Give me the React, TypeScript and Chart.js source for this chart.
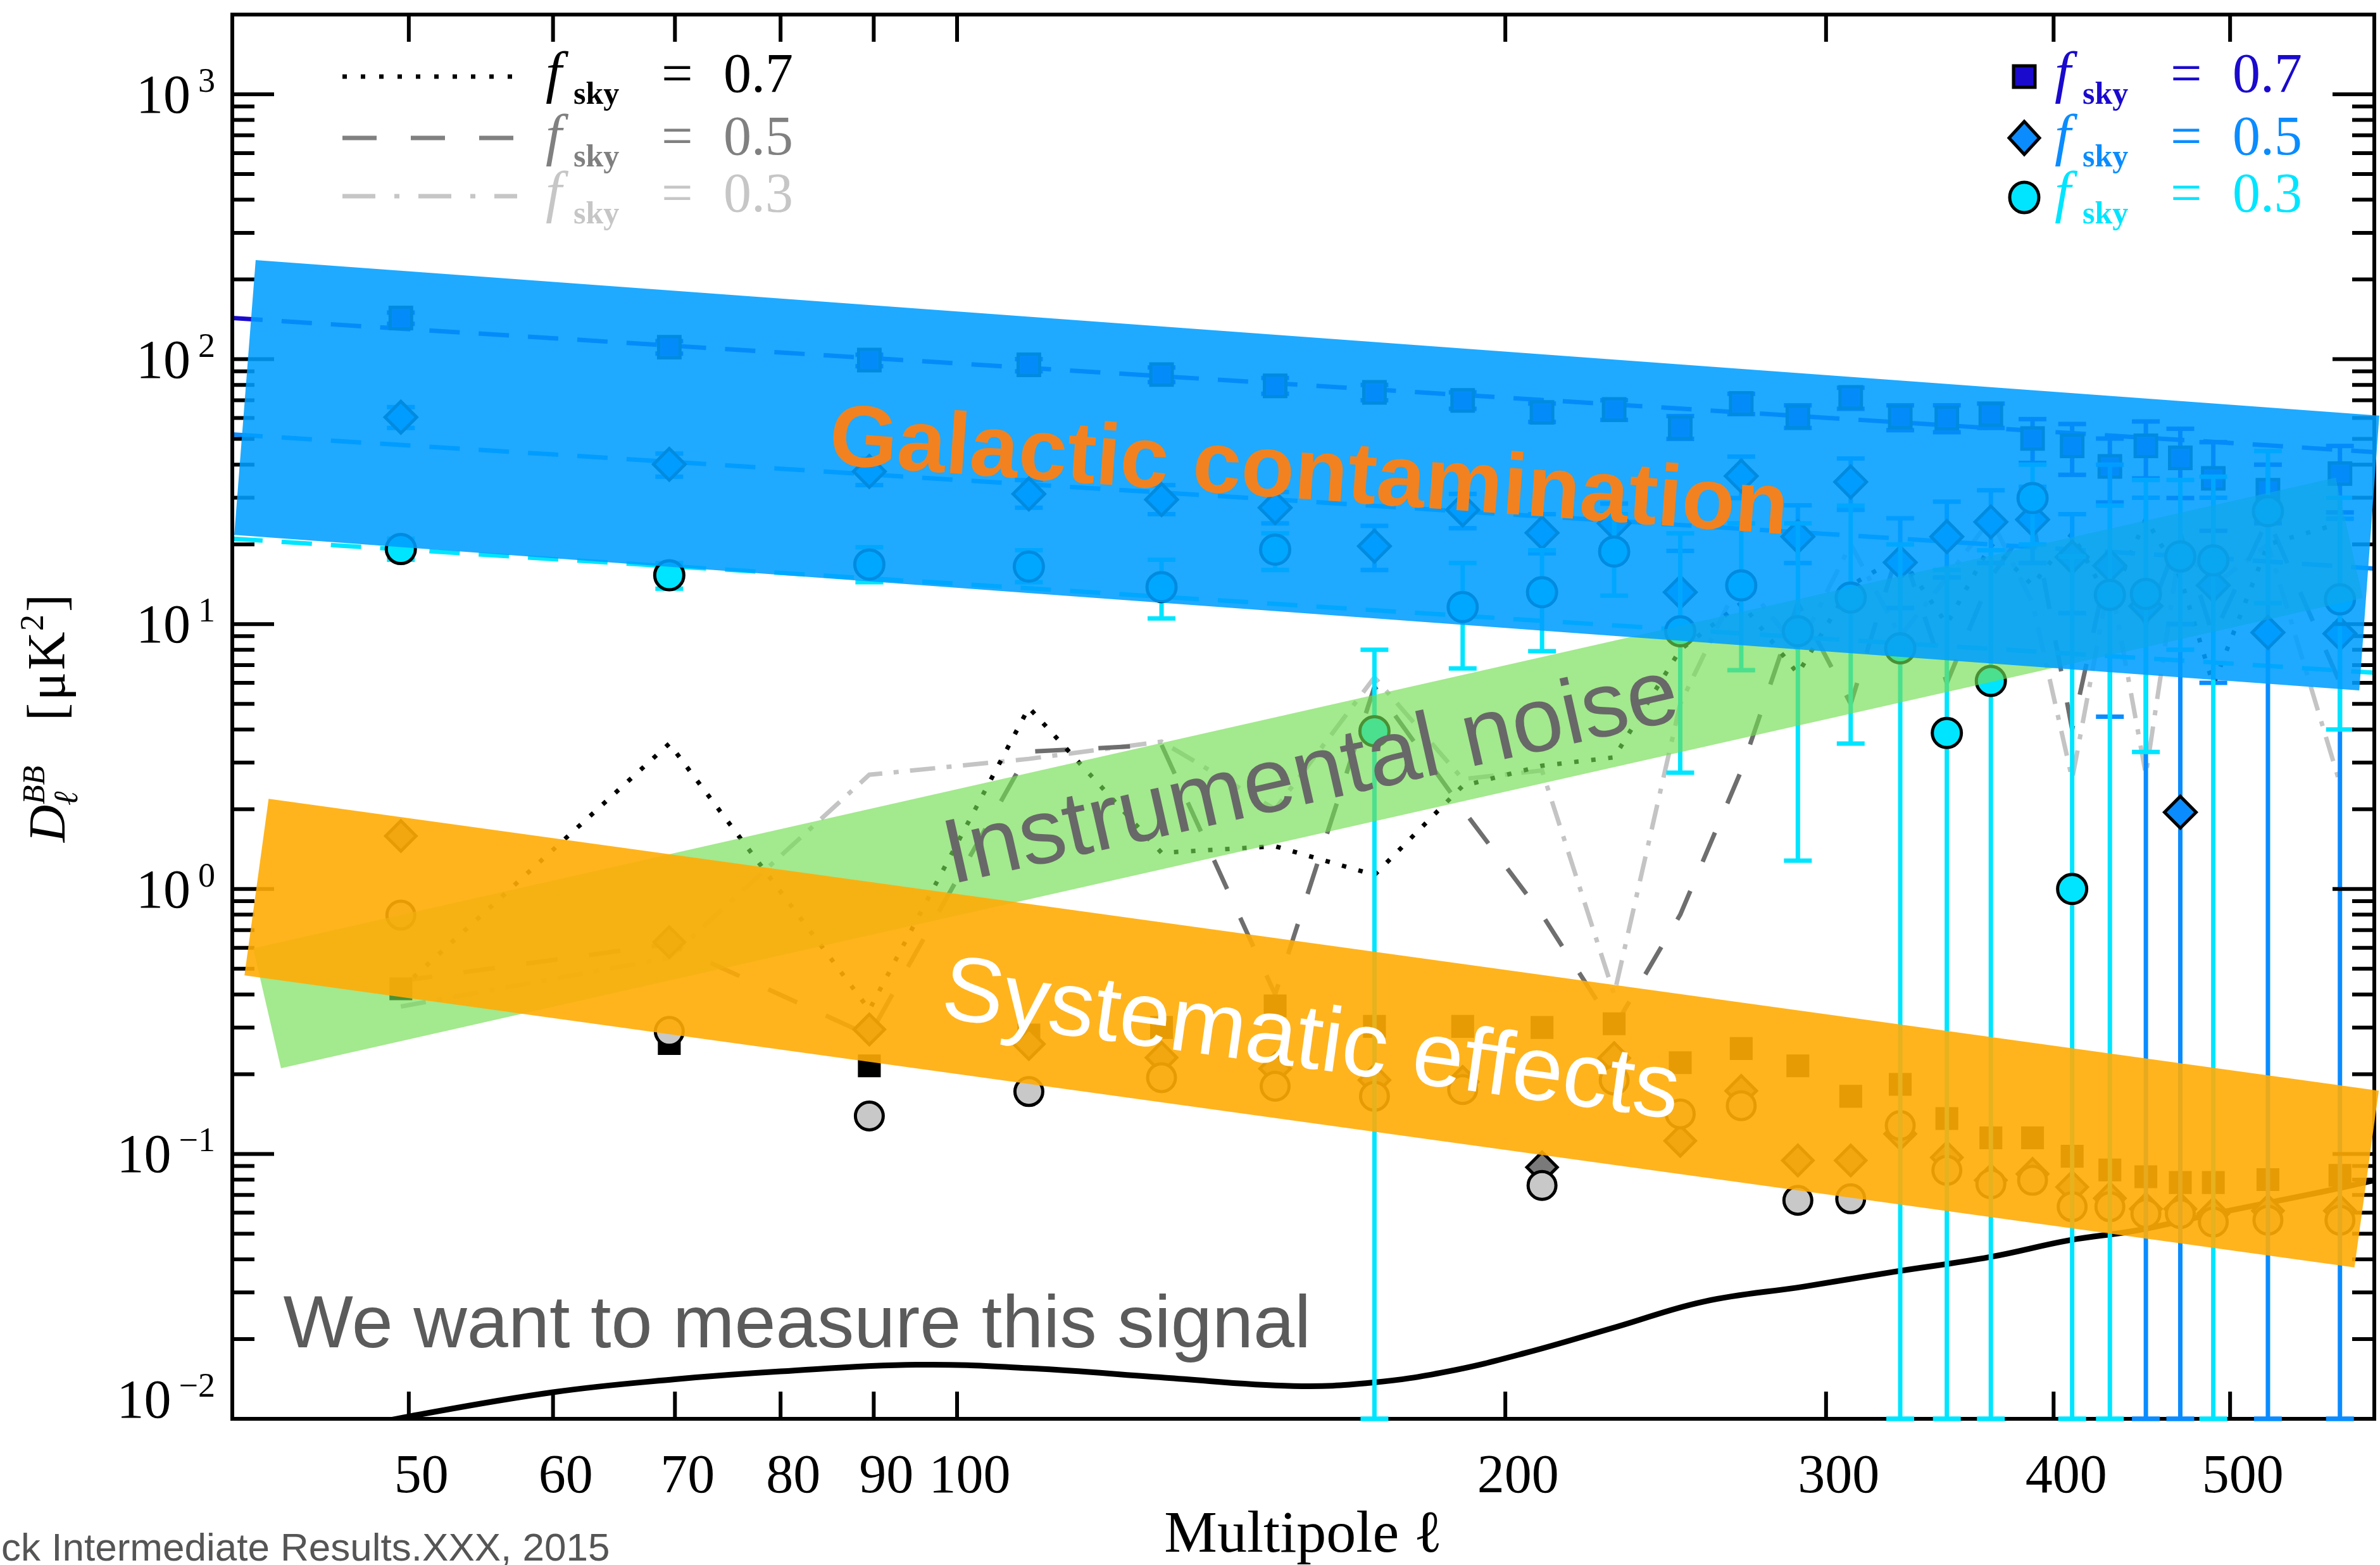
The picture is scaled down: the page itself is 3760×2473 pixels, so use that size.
import React, { useEffect, useRef } from "react";
import { Chart, registerables } from "chart.js";

Chart.register(...registerables);

// ---------- data (multipole bins) ----------
const ELL = [49.5, 69.5, 89.5, 109.5, 129.5, 149.5, 169.5, 189.5, 209.5, 229.5, 249.5, 269.5, 289.5, 309.5, 329.5, 349.5, 369.5, 389.5, 409.5, 429.5, 449.5, 469.5, 489.5, 524.5, 574.5];

// fsky = 0.7 (squares)
const SQ07 = [143, 111, 99.2, 95.2, 87.5, 79.3, 75, 69.9, 63, 64.6, 55.1, 68.1, 60.6, 71.7, 60.6, 60.0, 61.9, 50.2, 47.1, 39.4, 47.1, 42.4, 35.5, 32.0, 37.0];
const SQ07_LO = [136, 105, 94, 90, 82, 74, 70, 65, 58, 59, 50, 62, 55, 65, 54, 53, 55, 40.6, 36.6, 28.8, 35.5, 29.9, 22.5, 24, 26.4];
const SQ07_HI = [150, 117, 104, 100, 93, 85, 80, 75, 68, 70, 61, 74, 67, 78, 67, 67, 68, 59.4, 56.9, 50.2, 58.2, 54.6, 48.6, 40, 47];

// fsky = 0.5 (diamonds)
const DI05 = [60.4, 40.1, 37.7, 31, 29.5, 27.5, 19.7, 27, 22.1, 24, 13.2, 36.2, 21.4, 34.4, 17.1, 21.4, 24.3, 24.8, 17.9, 16.6, 11.7, 1.95, 14, 9.3, 9.2];
const DI05_LO = [55, 36, 33.5, 27.5, 26, 24, 16, 23, 18.5, 20, 10.0, 29.9, 17.0, 27.0, 11.5, 15, 17, 17, 11, 4.47, 0.001, 0.001, 6, 0.001, 0.001];
const DI05_HI = [66, 44, 42, 35, 33.5, 31.5, 23.5, 31, 26, 28.5, 18.9, 42.9, 28.1, 42.2, 25.1, 29, 32, 33, 26, 40, 30, 10, 30, 25, 25];

// fsky = 0.3 (circles)
const CI03 = [19.2, 15.3, 16.8, 16.5, 13.8, 19.1, 3.94, 11.6, 13.2, 18.8, 9.4, 14.0, 9.4, 12.6, 8.1, 3.88, 6.1, 29.9, 1.0, 12.9, 13, 18, 17.4, 26.7, 12.4];
const CI03_LO = [17.5, 13.6, 14.4, 14.4, 10.5, 16, 0.001, 6.8, 7.9, 12.8, 2.75, 6.7, 1.28, 3.54, 0.001, 0.001, 0.001, 20, 0.001, 0.001, 3.29, 8, 0.001, 12, 4];
const CI03_HI = [21, 17, 19.5, 19, 17.5, 22, 8.0, 17, 19, 26, 22, 24, 24, 28, 20, 16, 19, 40, 18, 28, 35, 35, 36, 45, 30];

// lower group (grey / black markers)
const SYS_SQ = [0.42, 0.261, 0.215, 0.281, 0.30, 0.362, 0.303, 0.303, 0.30, 0.31, 0.221, 0.25, 0.215, 0.165, 0.183, 0.136, 0.115, 0.115, 0.098, 0.087, 0.082, 0.078, 0.078, 0.080, 0.083];
const SYS_DI = [1.585, 0.63, 0.295, 0.26, 0.231, 0.21, 0.19, 0.187, 0.089, 0.23, 0.112, 0.173, 0.0945, 0.0945, 0.119, 0.097, 0.0795, 0.084, 0.075, 0.068, 0.062, 0.062, 0.0595, 0.061, 0.061];
const SYS_CI = [0.797, 0.29, 0.139, 0.172, 0.194, 0.18, 0.165, 0.175, 0.076, 0.19, 0.1415, 0.152, 0.0668, 0.0677, 0.128, 0.0867, 0.0771, 0.0795, 0.0632, 0.0632, 0.0595, 0.0595, 0.0553, 0.0562, 0.0562];

// zig-zag curves (dotted 0.7, dashed 0.5, dash-dot 0.3)
const DOT07 = [0.42, 3.54, 0.35, 4.84, 1.37, 1.45, 1.13, 2.45, 2.92, 3.14, 8, 12, 6.5, 14, 18, 10, 20, 14, 22, 12, 25, 15, 5.9, 20, 24];
const DASH05 = [0.45, 0.62, 0.28, 3.3, 3.5, 0.4, 5.8, 2.0, 0.8, 0.3, 0.8, 2.8, 12, 5, 20, 6, 15, 25, 4, 18, 10, 22, 9, 25, 6];
const DD03 = [0.36, 0.55, 2.7, 3.1, 3.6, 2.0, 6.3, 2.6, 2.8, 0.4, 5, 15, 8, 20, 9, 15, 25, 12, 2.6, 15, 2.7, 20, 14, 20, 2.5];

// dust model lines
const MODEL_ELL = [40, 60, 80, 100, 150, 200, 300, 400, 500, 600];
const MODEL07 = [143, 120, 106, 96.4, 81, 71.6, 60.1, 53.1, 48.3, 44.6];
const MODEL05 = [52, 43.7, 38.6, 35, 29.5, 26, 21.9, 19.3, 17.6, 16.2];
const MODEL03 = [21, 17.6, 15.6, 14.2, 11.9, 10.5, 8.8, 7.8, 7.1, 6.55];

// primordial signal curve
const SIG_ELL = [45, 50, 60, 70, 80, 95, 110, 130, 153, 169, 186, 205, 230, 257, 292, 327, 369, 408, 445, 490, 555, 600];
const SIG = [0.0088, 0.0102, 0.0126, 0.0141, 0.0151, 0.016, 0.0155, 0.0143, 0.0133, 0.0137, 0.0151, 0.0177, 0.0222, 0.0277, 0.0316, 0.0359, 0.0408, 0.0472, 0.0515, 0.0595, 0.0707, 0.0795];

// axes
const X_TICKS = [50, 60, 70, 80, 90, 100, 200, 300, 400, 500];
const Y_DECADES = [0.01, 0.1, 1, 10, 100, 1000];
const Y_EXP = ["\u22122", "\u22121", "0", "1", "2", "3"];

// annotation bands (corners in data coordinates: ell, D)
const BLUE_BAND = [[41.2, 236.6], [603.8, 61.2], [588.7, 5.62], [40.1, 21.7]];
const GREEN_BAND = [[41.07, 0.597], [571.4, 35.7], [591.4, 12.55], [42.54, 0.2105]];
const ORANGE_BAND = [[41.88, 2.19], [603.4, 0.1733], [585.1, 0.03727], [40.62, 0.4718]];

const LABEL_GALACTIC = [156, 36.5];
const LABEL_NOISE = [156.5, 2.65];
const LABEL_SYST = [156.4, 0.262];
const LABEL_SIGNAL = [42.66, 0.0186];

const C_SQ = "#1a0acd";
const C_DI = "#0a8cff";
const C_CI = "#00e5ff";

const SERIF = '"Liberation Serif", "DejaVu Serif", serif';
const SANS = '"Liberation Sans", Arial, sans-serif';

const pts = (xs: number[], ys: number[]) => xs.map((x, i) => ({ x, y: ys[i] }));

function drawErrorBars(chart: any, ds: any, onlyBottom: boolean) {
  const ctx = chart.ctx;
  const xs = chart.scales.x;
  const ys = chart.scales.y;
  const a = chart.chartArea;
  ctx.save();
  ctx.beginPath();
  ctx.rect(a.left, a.top - 10, a.right - a.left, a.bottom - a.top + 20);
  ctx.clip();
  ctx.strokeStyle = ds.errColor;
  ctx.lineWidth = 7;
  ds.data.forEach((p: any, i: number) => {
    const x = xs.getPixelForValue(p.x);
    const yLoRaw = ys.getPixelForValue(ds.errLo[i]);
    const yLo = Math.min(yLoRaw, a.bottom);
    const yHi = Math.max(ys.getPixelForValue(ds.errHi[i]), a.top);
    if (onlyBottom) {
      if (yLoRaw >= a.bottom) {
        ctx.beginPath();
        ctx.moveTo(x - 22, a.bottom);
        ctx.lineTo(x + 22, a.bottom);
        ctx.stroke();
      }
      return;
    }
    ctx.beginPath();
    ctx.moveTo(x, yLo);
    ctx.lineTo(x, yHi);
    ctx.moveTo(x - 22, yLo);
    ctx.lineTo(x + 22, yLo);
    ctx.moveTo(x - 22, yHi);
    ctx.lineTo(x + 22, yHi);
    ctx.stroke();
  });
  ctx.restore();
}

function toPx(chart: any, p: number[]) {
  return [chart.scales.x.getPixelForValue(p[0]), chart.scales.y.getPixelForValue(p[1])];
}

function drawBand(chart: any, corners: number[][], color: string) {
  const ctx = chart.ctx;
  ctx.beginPath();
  corners.forEach((c, i) => {
    const [x, y] = toPx(chart, c);
    if (i === 0) ctx.moveTo(x, y);
    else ctx.lineTo(x, y);
  });
  ctx.closePath();
  ctx.fillStyle = color;
  ctx.fill();
}

function bandAngle(chart: any, corners: number[][]) {
  const [x0, y0] = toPx(chart, corners[0]);
  const [x1, y1] = toPx(chart, corners[1]);
  return Math.atan2(y1 - y0, x1 - x0);
}

function drawRotText(chart: any, text: string, anchor: number[], angle: number, font: string, color: string) {
  const ctx = chart.ctx;
  const [x, y] = toPx(chart, anchor);
  ctx.save();
  ctx.translate(x, y);
  ctx.rotate(angle);
  ctx.font = font;
  ctx.fillStyle = color;
  ctx.textAlign = "center";
  ctx.textBaseline = "middle";
  ctx.fillText(text, 0, 0);
  ctx.restore();
}

function drawFsky(ctx: any, x: number, base: number, value: string, color: string) {
  ctx.save();
  ctx.fillStyle = color;
  ctx.textAlign = "left";
  ctx.textBaseline = "alphabetic";
  ctx.font = `italic 92px ${SERIF}`;
  ctx.fillText("f", x, base);
  ctx.font = `bold 50px ${SERIF}`;
  ctx.fillText("sky", x + 44, base + 19);
  ctx.font = `88px ${SERIF}`;
  ctx.fillText("=", x + 183, base);
  ctx.fillText(value, x + 281, base);
  ctx.restore();
}

const overlayPlugin = {
  id: "overlay",
  beforeDatasetDraw(chart: any, args: any) {
    const ds = chart.data.datasets[args.index];
    if (ds.errLo) drawErrorBars(chart, ds, false);
  },
  afterDraw(chart: any) {
    const ctx = chart.ctx;
    const xs = chart.scales.x;
    const ys = chart.scales.y;
    const a = chart.chartArea;
    ctx.save();

    // axis box
    ctx.strokeStyle = "#000";
    ctx.lineWidth = 6;
    ctx.strokeRect(a.left, a.top, a.right - a.left, a.bottom - a.top);

    // y ticks (major + minor), inward on both sides
    Y_DECADES.forEach((d) => {
      for (let k = 1; k <= 9; k++) {
        const v = k * d;
        if (v > ys.max * 1.0001 || v < ys.min * 0.9999) continue;
        const y = ys.getPixelForValue(v);
        const len = k === 1 ? 66 : 35;
        ctx.beginPath();
        ctx.moveTo(a.left, y);
        ctx.lineTo(a.left + len, y);
        ctx.moveTo(a.right, y);
        ctx.lineTo(a.right - len, y);
        ctx.stroke();
      }
    });
    // x ticks
    X_TICKS.forEach((v) => {
      const x = xs.getPixelForValue(v);
      ctx.beginPath();
      ctx.moveTo(x, a.bottom);
      ctx.lineTo(x, a.bottom - 43);
      ctx.moveTo(x, a.top);
      ctx.lineTo(x, a.top + 43);
      ctx.stroke();
    });

    // y tick labels 10^n
    ctx.fillStyle = "#000";
    ctx.textBaseline = "alphabetic";
    Y_DECADES.forEach((d, i) => {
      const y = ys.getPixelForValue(d);
      const base = Math.min(y + 29, a.bottom - 2);
      ctx.font = `54px ${SERIF}`;
      const w = ctx.measureText(Y_EXP[i]).width;
      const ex = 340 - w;
      ctx.textAlign = "left";
      ctx.fillText(Y_EXP[i], ex, base - 33);
      ctx.font = `86px ${SERIF}`;
      ctx.textAlign = "right";
      ctx.fillText("10", ex - 12, base);
    });

    // error-bar caps that sit on the lower axis
    chart.data.datasets.forEach((ds: any) => {
      if (ds.errLo) drawErrorBars(chart, ds, true);
    });

    // bands
    drawBand(chart, GREEN_BAND, "rgba(114,221,80,0.65)");
    drawBand(chart, ORANGE_BAND, "rgba(255,172,5,0.9)");
    drawBand(chart, BLUE_BAND, "rgba(0,158,255,0.88)");

    // band labels
    drawRotText(chart, "Galactic contamination", LABEL_GALACTIC, bandAngle(chart, BLUE_BAND), `bold 138px ${SANS}`, "#f2821f");
    drawRotText(chart, "Instrumental noise", LABEL_NOISE, bandAngle(chart, GREEN_BAND), `145px ${SANS}`, "#686868");
    drawRotText(chart, "Systematic effects", LABEL_SYST, bandAngle(chart, ORANGE_BAND), `145px ${SANS}`, "#ffffff");

    // signal label
    {
      const [x, y] = toPx(chart, LABEL_SIGNAL);
      ctx.font = `117px ${SANS}`;
      ctx.fillStyle = "#5b5b5b";
      ctx.textAlign = "left";
      ctx.textBaseline = "alphabetic";
      ctx.fillText("We want to measure this signal", x, y);
    }

    // left legend (line styles)
    const legendRows = [
      { y: 121, base: 145, dash: [7, 22], color: "#000000", text: "0.7" },
      { y: 218, base: 244, dash: [54, 54], color: "#808080", text: "0.5" },
      { y: 310, base: 334, dash: [52, 30, 8, 30], color: "#c6c6c6", text: "0.3" },
    ];
    legendRows.forEach((r) => {
      ctx.save();
      ctx.strokeStyle = r.color;
      ctx.lineWidth = 7;
      ctx.setLineDash(r.dash);
      ctx.beginPath();
      ctx.moveTo(541, r.y);
      ctx.lineTo(817, r.y);
      ctx.stroke();
      ctx.restore();
      drawFsky(ctx, 862, r.base, r.text, r.color);
    });

    // right legend (markers)
    const mx = 3198;
    ctx.lineWidth = 5;
    ctx.strokeStyle = "#000";
    ctx.setLineDash([]);
    ctx.fillStyle = C_SQ;
    ctx.beginPath();
    ctx.rect(mx - 17, 121 - 17, 34, 34);
    ctx.fill();
    ctx.stroke();
    ctx.fillStyle = C_DI;
    ctx.beginPath();
    ctx.moveTo(mx - 24, 218);
    ctx.lineTo(mx, 218 - 26);
    ctx.lineTo(mx + 24, 218);
    ctx.lineTo(mx, 218 + 26);
    ctx.closePath();
    ctx.fill();
    ctx.stroke();
    ctx.fillStyle = C_CI;
    ctx.beginPath();
    ctx.ellipse(mx, 312, 23, 24, 0, 0, Math.PI * 2);
    ctx.fill();
    ctx.stroke();
    drawFsky(ctx, 3246, 145, "0.7", C_SQ);
    drawFsky(ctx, 3246, 244, "0.5", C_DI);
    drawFsky(ctx, 3246, 334, "0.3", C_CI);

    // y-axis title  D_l^BB [muK^2]
    ctx.save();
    ctx.translate(102, 1331);
    ctx.rotate(-Math.PI / 2);
    ctx.fillStyle = "#000";
    ctx.textAlign = "left";
    ctx.textBaseline = "alphabetic";
    ctx.font = `italic 82px ${SERIF}`;
    ctx.fillText("D", 0, 0);
    ctx.font = `italic 54px ${SERIF}`;
    ctx.fillText("\u2113", 58, 20);
    ctx.font = `italic 50px ${SERIF}`;
    ctx.fillText("BB", 60, -32);
    ctx.font = `84px ${SERIF}`;
    ctx.fillText("[", 192, 0);
    ctx.fillText("\u03bc", 224, 0);
    ctx.fillText("K", 272, 0);
    ctx.font = `52px ${SERIF}`;
    ctx.fillText("2", 334, -34);
    ctx.font = `84px ${SERIF}`;
    ctx.fillText("]", 364, 0);
    ctx.restore();

    // credit line
    ctx.font = `62px ${SANS}`;
    ctx.fillStyle = "#555555";
    ctx.textAlign = "left";
    ctx.textBaseline = "alphabetic";
    ctx.fillText("ck Intermediate Results.XXX, 2015", 2, 2466);

    ctx.restore();
  },
};

export default function App() {
  const ref = useRef<HTMLCanvasElement>(null);

  useEffect(() => {
    const canvas = ref.current;
    if (!canvas) return;

    const pointSet = (label: string, ys: number[], style: string, radius: number, fill: string, extra: any = {}) => ({
      label,
      data: pts(ELL, ys),
      showLine: false,
      pointStyle: style,
      pointRadius: radius,
      pointBackgroundColor: fill,
      pointBorderColor: "#000",
      pointBorderWidth: 5,
      ...extra,
    });
    const lineSet = (label: string, xs: number[], ys: number[], color: string, dash: number[], width: number, tension = 0) => ({
      label,
      data: pts(xs, ys),
      borderColor: color,
      borderWidth: width,
      borderDash: dash,
      borderCapStyle: "butt",
      pointRadius: 0,
      fill: false,
      tension,
    });

    const datasets: any[] = [
      pointSet("fsky 0.3", CI03, "circle", 23, C_CI, { errLo: CI03_LO, errHi: CI03_HI, errColor: C_CI }),
      pointSet("fsky 0.5", DI05, "rectRot", 25, C_DI, { errLo: DI05_LO, errHi: DI05_HI, errColor: C_DI }),
      pointSet("fsky 0.7", SQ07, "rect", 24, C_SQ, { errLo: SQ07_LO, errHi: SQ07_HI, errColor: C_SQ }),
      lineSet("model 0.3", MODEL_ELL, MODEL03, C_CI, [48, 30], 7),
      lineSet("model 0.5", MODEL_ELL, MODEL05, C_DI, [48, 30], 7),
      lineSet("model 0.7", MODEL_ELL, MODEL07, C_SQ, [48, 30], 7),
      pointSet("sys 0.3", SYS_CI, "circle", 22, "#c8c8c8"),
      pointSet("sys 0.5", SYS_DI, "rectRot", 24, "#7a7a7a"),
      pointSet("sys 0.7", SYS_SQ, "rect", 22, "#000000"),
      lineSet("noise 0.7", ELL, DOT07, "#000000", [7, 20], 7),
      lineSet("noise 0.5", ELL, DASH05, "#6e6e6e", [50, 50], 7),
      lineSet("noise 0.3", ELL, DD03, "#c4c4c4", [40, 18, 8, 18], 7),
      lineSet("signal", SIG_ELL, SIG, "#000000", [], 9, 0.4),
    ];

    const chart = new Chart(canvas, {
      type: "line",
      data: { datasets },
      plugins: [overlayPlugin],
      options: {
        animation: false,
        responsive: false,
        devicePixelRatio: 1,
        events: [],
        layout: { autoPadding: false, padding: { left: 0, top: 23, right: 9, bottom: 0 } },
        plugins: { legend: { display: false }, tooltip: { enabled: false } },
        scales: {
          x: {
            type: "logarithmic",
            min: 40,
            max: 600,
            grid: { display: false },
            border: { display: false },
            afterBuildTicks: (s: any) => {
              s.ticks = X_TICKS.map((v) => ({ value: v }));
            },
            afterFit: (s: any) => {
              s.height = 231;
            },
            ticks: {
              autoSkip: false,
              maxRotation: 0,
              minRotation: 0,
              padding: 34,
              labelOffset: 20,
              color: "#000",
              font: { family: SERIF, size: 86 },
              callback: (v: any) => String(v),
            },
            title: {
              display: true,
              text: "Multipole \u2113",
              color: "#000",
              font: { family: SERIF, size: 94, lineHeight: 0.9 },
              padding: { top: 0, bottom: 3 },
            },
          },
          y: {
            type: "logarithmic",
            min: 0.01,
            max: 2000,
            grid: { display: false },
            border: { display: false },
            afterBuildTicks: (s: any) => {
              s.ticks = Y_DECADES.map((v) => ({ value: v }));
            },
            afterFit: (s: any) => {
              s.width = 367;
            },
            ticks: { display: false },
          },
        },
      } as any,
    });

    return () => chart.destroy();
  }, []);

  return (
    <div style={{ position: "absolute", left: 0, top: 0, width: 3760, height: 2473, background: "#ffffff", overflow: "hidden" }}>
      <canvas ref={ref} width={3760} height={2473} style={{ display: "block", width: 3760, height: 2473 }} />
    </div>
  );
}
